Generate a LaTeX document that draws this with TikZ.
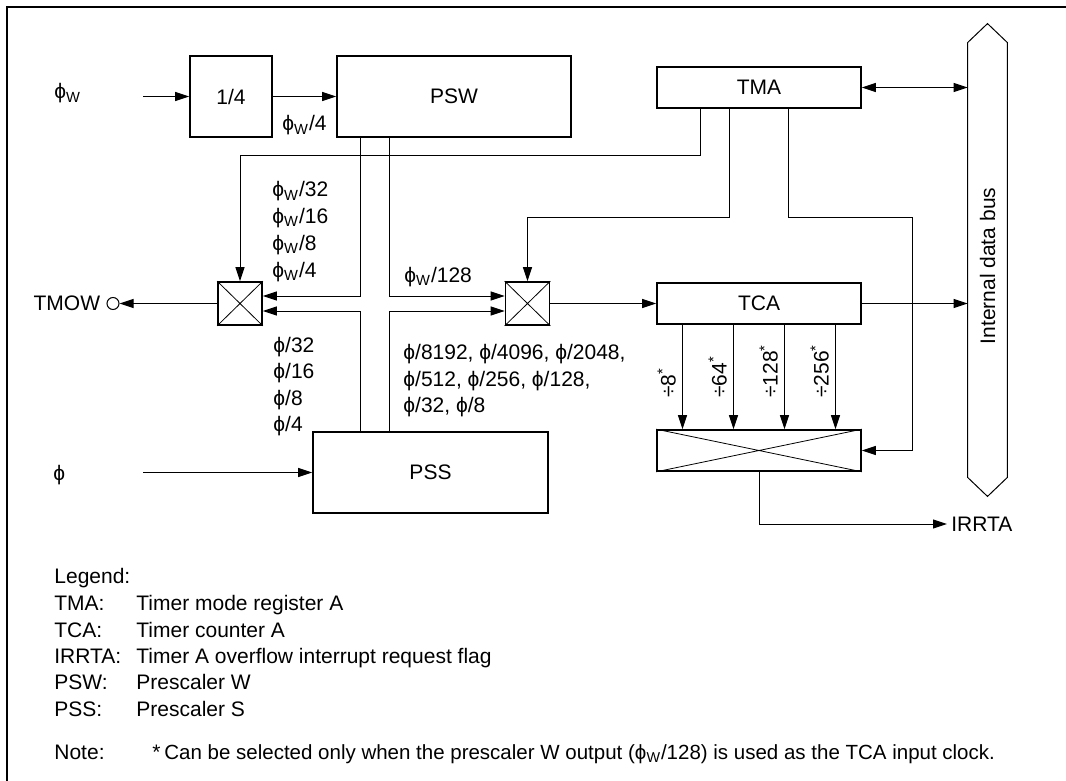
\documentclass[tikz,border=0pt]{standalone}
\usepackage{fontspec}
\setmainfont{Liberation Sans}
\usetikzlibrary{arrows.meta,positioning}

\begin{document}
\begin{tikzpicture}[x=0.5pt,y=-0.5pt,
  every node/.style={font=\fontsize{10.5}{13}\selectfont},
  blk/.style={draw,line width=0.8pt,inner sep=0pt},
  reg/.style={blk,minimum width=102pt,minimum height=20.5pt},
  mux/.style={blk,minimum width=22pt,minimum height=21.5pt},
  lbl/.style={anchor=base west,inner sep=0pt},
  ln/.style={line width=0.5pt},
  ar/.style={-{Triangle[length=7pt,width=4.5pt]},ln},
  arr/.style={{Triangle[length=7pt,width=4.5pt]}-{Triangle[length=7pt,width=4.5pt]},ln}]

\useasboundingbox (0,0) rectangle (1066,781);
\draw[line width=1pt] (7,781) -- (7,7) -- (1066,7);

\node[blk,minimum width=41pt,minimum height=40.5pt] (div) at (231,96.5) {1/4};
\node[blk,minimum width=117pt,minimum height=40.5pt] (psw) at (454,96.5) {PSW};
\node[blk,minimum width=117.5pt,minimum height=40.5pt] (pss) at (430.5,472.5) {PSS};
\node[reg] (tma) at (759,87.5) {TMA};
\node[reg] (tca) at (759,303.5) {TCA};
\node[mux] (muxw) at (240,303.5) {};
\node[mux] (muxa) at (527.5,303.5) {};
\node[reg] (muxo) at (759,450.5) {};
\foreach \m in {muxw,muxa,muxo}
  \draw[line width=0.4pt] (\m.north west) -- (\m.south east) (\m.north east) -- (\m.south west);

\node[minimum width=19.5pt,minimum height=217pt,inner sep=0pt] (bus) at (987.5,260) {};
\draw[ln] (bus.south west) -- (bus.north west) -- ([yshift=9.5pt]bus.north) -- (bus.north east)
  -- (bus.south east) -- ([yshift=-9.5pt]bus.south) -- cycle;
\node[rotate=90] (buslbl) at (987.5,266) {Internal data bus};

\node[lbl] (phiw) at (54,99) {ϕ\textsubscript{W}};
\coordinate (win) at (143,96.5);
\draw[ar] (win) -- (div);
\draw[ar] (div) -- (psw);
\node[lbl] (fwq) at (282,131) {ϕ\textsubscript{W}/4};

\node[lbl] (phis) at (53,480) {ϕ};
\coordinate (sin) at (143,472.5);
\draw[ar] (sin) -- (pss);

\node[circle,draw,ln,inner sep=0pt,minimum size=6pt] (tmow) at (113,303.5) {};
\node[anchor=east,inner sep=3pt] (tmowlbl) at (tmow.west) {TMOW};
\draw[ar] (muxw) -- (tmow);

\coordinate (ca) at (360,0);
\coordinate (cb) at (389,0);
\draw[ar] (ca |- psw.south) |- ([yshift=3.75pt]muxw.east);
\draw[ar] (cb |- psw.south) |- ([yshift=3.75pt]muxa.west);
\draw[ar] (ca |- pss.north) |- ([yshift=-3.75pt]muxw.east);
\draw[ar] (cb |- pss.north) |- ([yshift=-3.75pt]muxa.west);

\coordinate (ta) at (700,0);
\coordinate (tb) at (729,0);
\coordinate (tc) at (788,0);
\draw[ar] (ta |- tma.south) -- ++(0,47) -| (muxw.north);
\draw[ar] (tb |- tma.south) -- ++(0,109) -| (muxa.north);
\draw[ar] (tc |- tma.south) -- ++(0,109) -- ++(124,0) |- (muxo.east);

\draw[ar] (muxa) -- (tca);
\draw[ar] (tca) -- (tca -| bus.west);
\draw[arr] (tma) -- (tma -| bus.west);

\foreach \dx/\n in {-76.5/8,-25.5/64,25.5/128,76.5/256}{
  \draw[ar] ([xshift=\dx*0.5pt]tca.south) -- ([xshift=\dx*0.5pt]muxo.north);
  \node[lbl,rotate=90] (d\n) at ({759+\dx-7},398) {÷\n\textsuperscript{*}};
}

\node[anchor=west,inner sep=2pt] (irrta) at (947,524) {IRRTA};
\draw[ar] (muxo.south) |- (irrta.west);

\foreach \t/\y in {32/197,16/223.5,8/250,4/277}
  \node[lbl] (fw\t) at (272,\y) {ϕ\textsubscript{W}/\t};
\foreach \t/\y in {32/352,16/378,8/405,4/431}
  \node[lbl] (fs\t) at (273,\y) {ϕ/\t};
\node[lbl] (fw128) at (404,282) {ϕ\textsubscript{W}/128};
\node[lbl] (fsa) at (403,359) {ϕ/8192, ϕ/4096, ϕ/2048,};
\node[lbl] (fsb) at (403,386) {ϕ/512, ϕ/256, ϕ/128,};
\node[lbl] (fsc) at (403,412) {ϕ/32, ϕ/8};

\node[lbl] (lgd) at (54,583) {Legend:};
\foreach \k/\d/\y in {TMA:/Timer mode register A/610,TCA:/Timer counter A/637,
    IRRTA:/Timer A overflow interrupt request flag/663,PSW:/Prescaler W/689,PSS:/Prescaler S/716}{
  \node[lbl] (k\y) at (54,\y) {\k};
  \node[lbl] (v\y) at (136,\y) {\d};
}
\node[lbl] (note) at (54,759) {Note:};
\node[lbl] (noteast) at (152,759) {*};
\node[lbl] (notetxt) at (164,759) {\fontsize{10.25}{13}\selectfont Can be selected only when the
  prescaler W output (ϕ\textsubscript{W}/128) is used as the TCA input clock.};
\end{tikzpicture}
\end{document}
